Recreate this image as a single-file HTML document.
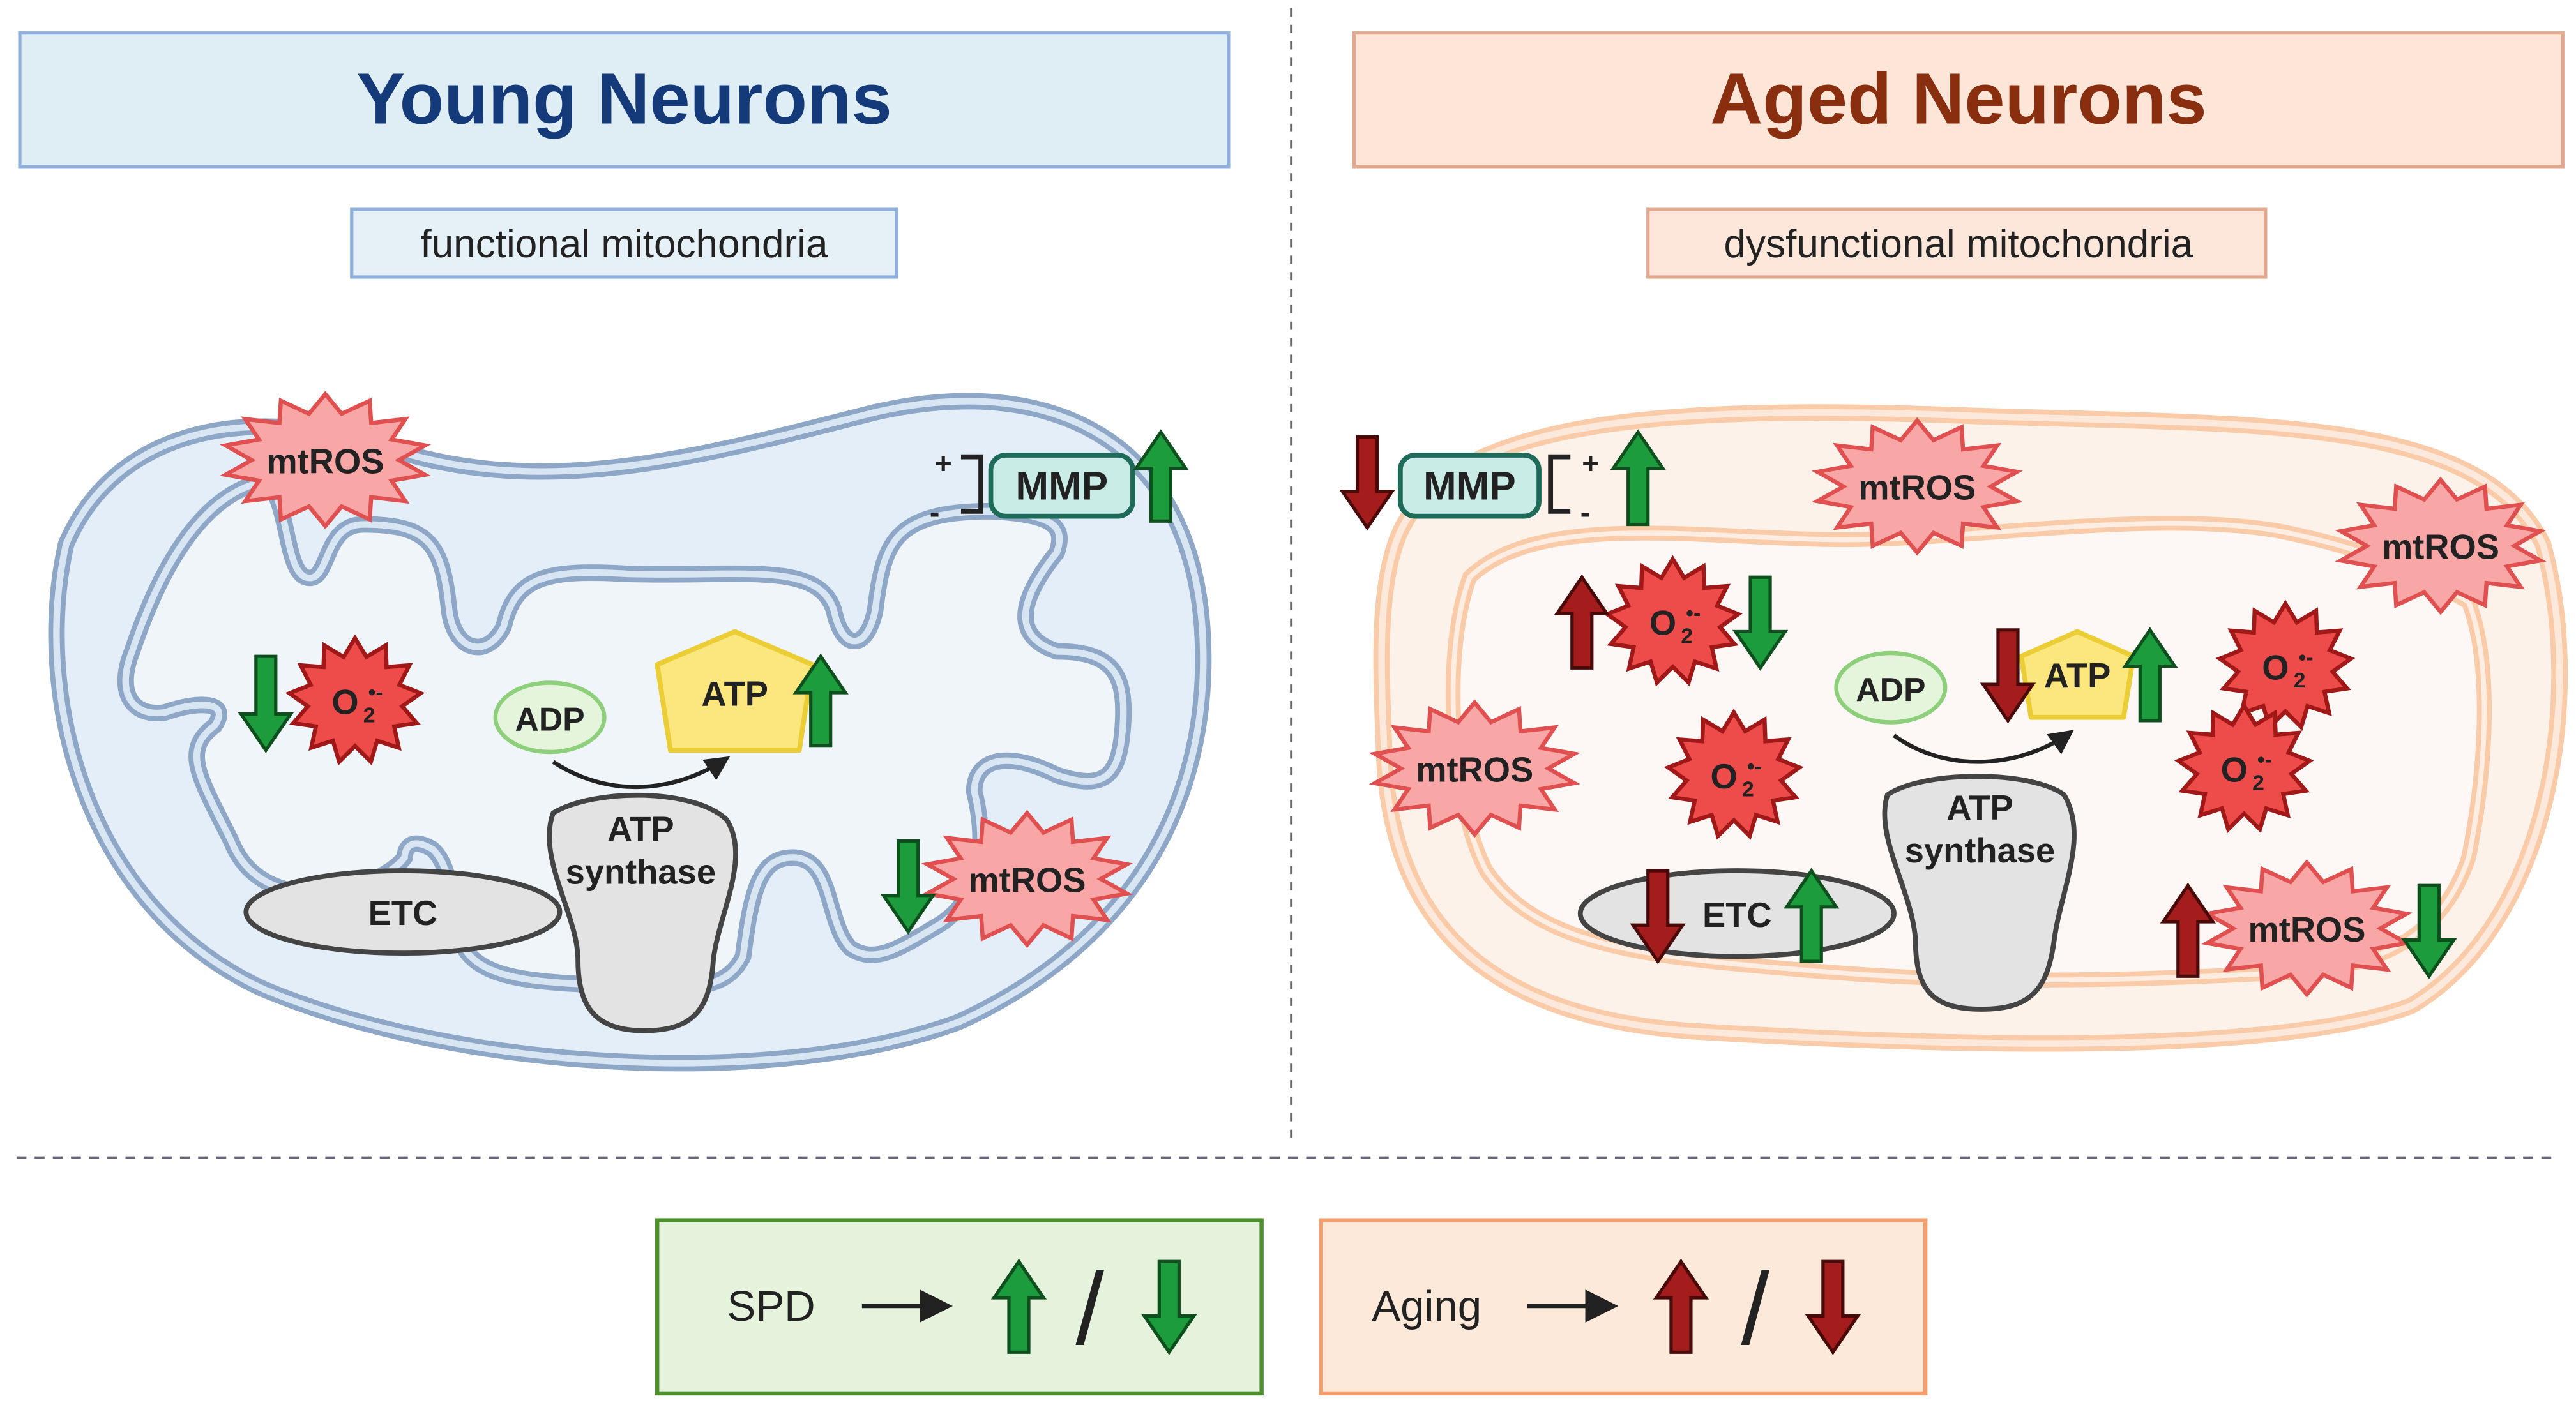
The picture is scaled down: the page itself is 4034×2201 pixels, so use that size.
<!DOCTYPE html>
<html><head><meta charset="utf-8">
<style>
html,body{margin:0;padding:0;background:#fff;}
svg{display:block;}
text{font-family:"Liberation Sans",sans-serif;}
</style></head>
<body>
<svg id="s" width="4034" height="2201" viewBox="0 0 1560 852" preserveAspectRatio="none" xmlns="http://www.w3.org/2000/svg">
<defs>
<marker id="ah" markerWidth="8" markerHeight="8" refX="6" refY="4" orient="auto" markerUnits="strokeWidth">
<path d="M0,0 L8,4 L0,8 z" fill="#222"/></marker>
<marker id="ah2" markerWidth="6" markerHeight="6" refX="5" refY="3" orient="auto" markerUnits="strokeWidth">
<path d="M0,0 L6,3 L0,6 z" fill="#222"/></marker>
</defs>
<rect width="1560" height="852" fill="#fff"/>
<!-- headers -->
<rect x="12" y="20" width="732" height="81" fill="#dfedf5" stroke="#8fb0dc" stroke-width="2"/>
<text x="378" y="75" text-anchor="middle" font-size="44" font-weight="bold" fill="#143a7a">Young Neurons</text>
<rect x="820" y="20" width="732" height="81" fill="#fde5d8" stroke="#e2a88e" stroke-width="2"/>
<text x="1186" y="75" text-anchor="middle" font-size="44" font-weight="bold" fill="#8a2e10">Aged Neurons</text>
<rect x="213" y="127" width="330" height="41" fill="#e5f0f7" stroke="#8fb0dc" stroke-width="2"/>
<text x="378" y="156" text-anchor="middle" font-size="24" fill="#222">functional mitochondria</text>
<rect x="998" y="127" width="374" height="41" fill="#fde7da" stroke="#e2a88e" stroke-width="2"/>
<text x="1186" y="156" text-anchor="middle" font-size="24" fill="#222">dysfunctional mitochondria</text>
<line x1="782" y1="5" x2="782" y2="690" stroke="#666" stroke-width="1.5" stroke-dasharray="5,5"/>
<line x1="10" y1="702" x2="1545" y2="702" stroke="#667" stroke-width="1.5" stroke-dasharray="6,5"/>

<!-- young mito -->
<path d="M40,330 C70,260 150,245 230,270 C330,305 430,275 530,250 C640,225 720,270 728,380 C735,480 690,570 580,620 C470,660 280,650 160,600 C50,550 20,420 40,330 Z" fill="#e3eef9" stroke="#8ea7c6" stroke-width="10"/>
<path d="M40,330 C70,260 150,245 230,270 C330,305 430,275 530,250 C640,225 720,270 728,380 C735,480 690,570 580,620 C470,660 280,650 160,600 C50,550 20,420 40,330 Z" fill="none" stroke="#d8e5f3" stroke-width="4"/>
<g id="yin">
<path d="M160,292 C175,300 172,345 185,350 C200,355 195,318 220,318 C260,318 268,330 272,370 C275,395 295,400 305,380 C312,350 330,345 380,348 C450,350 495,340 505,370 C510,395 525,395 530,370 C535,330 540,310 600,310 C640,312 645,320 640,335 C620,360 610,385 640,395 C675,395 682,410 680,440 C678,470 670,480 640,470 C610,455 590,460 590,480 C595,500 600,540 570,560 C545,575 530,585 515,575 C500,560 505,520 480,520 C460,520 455,540 450,580 C440,600 420,600 380,598 C330,596 300,595 285,580 C270,565 278,530 262,515 C245,505 245,520 245,520 C230,540 160,560 140,510 C120,470 110,455 130,440 C140,425 120,425 100,432 C80,435 70,420 80,395 C95,350 120,300 160,292 Z" fill="#f0f5fa" stroke="#8ea7c6" stroke-width="10"/>
<path d="M160,292 C175,300 172,345 185,350 C200,355 195,318 220,318 C260,318 268,330 272,370 C275,395 295,400 305,380 C312,350 330,345 380,348 C450,350 495,340 505,370 C510,395 525,395 530,370 C535,330 540,310 600,310 C640,312 645,320 640,335 C620,360 610,385 640,395 C675,395 682,410 680,440 C678,470 670,480 640,470 C610,455 590,460 590,480 C595,500 600,540 570,560 C545,575 530,585 515,575 C500,560 505,520 480,520 C460,520 455,540 450,580 C440,600 420,600 380,598 C330,596 300,595 285,580 C270,565 278,530 262,515 C245,505 245,520 245,520 C230,540 160,560 140,510 C120,470 110,455 130,440 C140,425 120,425 100,432 C80,435 70,420 80,395 C95,350 120,300 160,292 Z" fill="none" stroke="#d8e5f3" stroke-width="4"/>
</g>

<!-- aged mito -->
<path d="M845,330 C870,255 1000,245 1190,252 C1360,258 1500,250 1540,330 C1565,420 1545,560 1460,610 C1380,640 1180,635 1020,625 C900,615 840,560 838,450 C836,400 835,360 845,330 Z" fill="#fdf2ea" stroke="#f9cba9" stroke-width="10"/>
<path d="M845,330 C870,255 1000,245 1190,252 C1360,258 1500,250 1540,330 C1565,420 1545,560 1460,610 C1380,640 1180,635 1020,625 C900,615 840,560 838,450 C836,400 835,360 845,330 Z" fill="none" stroke="#fde9dc" stroke-width="4"/>
<path d="M890,350 C930,312 1020,325 1100,327 C1180,330 1300,308 1380,322 C1440,334 1465,348 1495,365 C1510,405 1505,470 1495,520 C1480,565 1445,588 1380,590 C1300,594 1200,598 1090,588 C990,580 930,572 900,528 C880,490 872,400 890,350 Z" fill="#fdf8f5" stroke="#f9cba9" stroke-width="9"/>
<path d="M890,350 C930,312 1020,325 1100,327 C1180,330 1300,308 1380,322 C1440,334 1465,348 1495,365 C1510,405 1505,470 1495,520 C1480,565 1445,588 1380,590 C1300,594 1200,598 1090,588 C990,580 930,572 900,528 C880,490 872,400 890,350 Z" fill="none" stroke="#fdede2" stroke-width="3"/>

<g id="dyn"></g>

<!-- young objects -->
<ellipse cx="333" cy="435" rx="33" ry="21" fill="#e5f5dc" stroke="#8dcf7a" stroke-width="2.5"/>
<text x="333" y="443" text-anchor="middle" font-size="20" font-weight="bold" fill="#222">ADP</text>
<polygon points="445,383 492,403 484,455 406,455 398,403" fill="#fbe77e" stroke="#ebcd35" stroke-width="3" stroke-linejoin="round"/>
<text x="445" y="428" text-anchor="middle" font-size="21" font-weight="bold" fill="#222">ATP</text>
<ellipse cx="244" cy="553" rx="95" ry="25" fill="#e3e3e3" stroke="#444" stroke-width="3"/>
<text x="244" y="561" text-anchor="middle" font-size="21" font-weight="bold" fill="#222">ETC</text>
<path d="M335,493 C360,478 420,478 440,497 C455,520 435,555 432,582 C430,612 420,625 390,625 C360,625 350,610 350,582 C350,555 325,520 335,493 Z" fill="#e3e3e3" stroke="#444" stroke-width="3"/>
<text x="388" y="510" text-anchor="middle" font-size="21" font-weight="bold" fill="#222">ATP</text>
<text x="388" y="536" text-anchor="middle" font-size="21" font-weight="bold" fill="#222">synthase</text>
<path d="M335,462 C370,485 410,480 440,460" fill="none" stroke="#222" stroke-width="2.5" marker-end="url(#ah2)"/>
<rect x="600" y="276" width="86" height="37" rx="9" fill="#caece6" stroke="#1e6b5a" stroke-width="3"/>
<text x="643" y="303" text-anchor="middle" font-size="24" font-weight="bold" fill="#222">MMP</text>
<path d="M582,277 L594,277 L594,310 L582,310" fill="none" stroke="#222" stroke-width="3"/>
<text x="566" y="287" font-size="18" font-weight="bold" fill="#222">+</text>
<text x="563" y="317" font-size="18" font-weight="bold" fill="#222">-</text>

<!-- aged objects -->
<ellipse cx="1145" cy="417" rx="33" ry="21" fill="#e5f5dc" stroke="#8dcf7a" stroke-width="2.5"/>
<text x="1145" y="425" text-anchor="middle" font-size="20" font-weight="bold" fill="#222">ADP</text>
<polygon points="1258,383 1292,398 1286,435 1230,435 1224,398" fill="#fbe77e" stroke="#ebcd35" stroke-width="3" stroke-linejoin="round"/>
<text x="1258" y="417" text-anchor="middle" font-size="21" font-weight="bold" fill="#222">ATP</text>
<ellipse cx="1052" cy="554" rx="95" ry="26" fill="#e3e3e3" stroke="#444" stroke-width="3"/>
<text x="1052" y="562" text-anchor="middle" font-size="21" font-weight="bold" fill="#222">ETC</text>
<path d="M1143,482 C1165,467 1230,467 1250,482 C1265,507 1248,540 1244,570 C1240,600 1230,612 1200,612 C1170,612 1160,600 1160,570 C1158,540 1135,507 1143,482 Z" fill="#e3e3e3" stroke="#444" stroke-width="3"/>
<text x="1199" y="497" text-anchor="middle" font-size="21" font-weight="bold" fill="#222">ATP</text>
<text x="1199" y="523" text-anchor="middle" font-size="21" font-weight="bold" fill="#222">synthase</text>
<path d="M1147,446 C1180,470 1225,465 1254,444" fill="none" stroke="#222" stroke-width="2.5" marker-end="url(#ah2)"/>
<rect x="848" y="276" width="84" height="37" rx="9" fill="#caece6" stroke="#1e6b5a" stroke-width="3"/>
<text x="890" y="303" text-anchor="middle" font-size="24" font-weight="bold" fill="#222">MMP</text>
<path d="M951,277 L939,277 L939,310 L951,310" fill="none" stroke="#222" stroke-width="3"/>
<text x="958" y="287" font-size="18" font-weight="bold" fill="#222">+</text>
<text x="957" y="317" font-size="18" font-weight="bold" fill="#222">-</text>

<!-- legend -->
<rect x="398" y="740" width="366" height="105" fill="#e6f3dc" stroke="#4e8f2e" stroke-width="2.5"/>
<text x="467" y="801" text-anchor="middle" font-size="26" fill="#222">SPD</text>
<line x1="522" y1="792" x2="572" y2="792" stroke="#222" stroke-width="2.5" marker-end="url(#ah)"/>
<text x="660" y="815" text-anchor="middle" font-size="62" fill="#222">/</text>
<rect x="800" y="740" width="366" height="105" fill="#fde9da" stroke="#f0a070" stroke-width="2.5"/>
<text x="864" y="801" text-anchor="middle" font-size="26" fill="#222">Aging</text>
<line x1="925" y1="792" x2="975" y2="792" stroke="#222" stroke-width="2.5" marker-end="url(#ah)"/>
<text x="1063" y="815" text-anchor="middle" font-size="62" fill="#222">/</text>
</svg>
<script>
(function(){
var NS="http://www.w3.org/2000/svg",svg=document.getElementById('s'),dyn=document.getElementById('dyn');
function el(t,a,p){var e=document.createElementNS(NS,t);for(var k in a)e.setAttribute(k,a[k]);(p||svg).appendChild(e);return e;}
function star(cx,cy,rx,ry,n,inner,fill,stroke){var p=[];for(var i=0;i<n*2;i++){var a=Math.PI*i/n-Math.PI/2;var f=i%2?inner:1;p.push((cx+Math.cos(a)*rx*f).toFixed(1)+','+(cy+Math.sin(a)*ry*f).toFixed(1));}
el('polygon',{points:p.join(' '),fill:fill,stroke:stroke,'stroke-width':2.5,'stroke-linejoin':'miter'});}
function ros(cx,cy){star(cx,cy,62,40,14,0.72,'#f8a6a6','#e05050');var t=el('text',{x:cx,y:cy+8,'text-anchor':'middle','font-size':21,'font-weight':'bold',fill:'#222'});t.textContent='mtROS';}
function o2(cx,cy){star(cx,cy,40,38,13,0.72,'#ee4b4b','#a01818');var t=el('text',{x:cx-6,y:cy+8,'text-anchor':'middle','font-size':21,'font-weight':'bold',fill:'#222'});t.textContent='O';
var s=el('text',{x:cx+5,y:cy+13,'font-size':13,'font-weight':'bold',fill:'#222'});s.textContent='2';
var u=el('text',{x:cx+8,y:cy-1,'font-size':13,'font-weight':'bold',fill:'#222'});u.textContent='\u2022-';}
function arrow(x,y1,y2,up,green){var f=green?'#1c9c3c':'#a51c1c',s=green?'#0d4f1d':'#4a0a0a';var w=6,hw=15,hh=22,d;
if(up){d='M'+(x-w)+','+y2+' L'+(x-w)+','+(y1+hh)+' L'+(x-hw)+','+(y1+hh)+' L'+x+','+y1+' L'+(x+hw)+','+(y1+hh)+' L'+(x+w)+','+(y1+hh)+' L'+(x+w)+','+y2+' Z';}
else{d='M'+(x-w)+','+y1+' L'+(x-w)+','+(y2-hh)+' L'+(x-hw)+','+(y2-hh)+' L'+x+','+y2+' L'+(x+hw)+','+(y2-hh)+' L'+(x+w)+','+(y2-hh)+' L'+(x+w)+','+y1+' Z';}
el('path',{d:d,fill:f,stroke:s,'stroke-width':2});}
ros(197,279);ros(622,533);o2(215,425);
arrow(703,262,316,true,true);arrow(161,398,455,false,true);arrow(497,398,452,true,true);arrow(550,510,565,false,true);
ros(1161,295);ros(1478,331);ros(893,466);ros(1397,563);
o2(1013,377);o2(1384,404);o2(1359,466);o2(1050,470);
arrow(828,265,320,false,false);arrow(992,262,318,true,true);
arrow(958,350,405,true,false);arrow(1066,350,405,false,true);
arrow(1216,382,437,false,false);arrow(1302,382,437,true,true);
arrow(1004,528,583,false,false);arrow(1097,528,583,true,true);
arrow(1325,537,592,true,false);arrow(1471,537,592,false,true);
arrow(617,765,820,true,true);arrow(708,765,820,false,true);
arrow(1018,765,820,true,false);arrow(1110,765,820,false,false);
})();
</script>
</body></html>
